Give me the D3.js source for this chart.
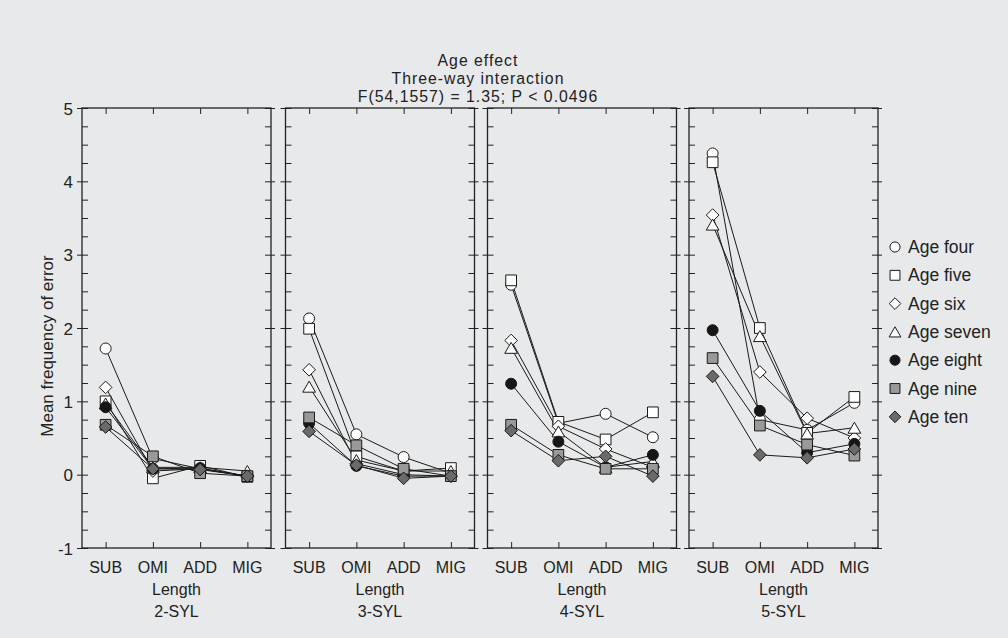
<!DOCTYPE html>
<html><head><meta charset="utf-8">
<script src="https://cdn.jsdelivr.net/npm/d3@7"></script>
<style>
html,body{margin:0;padding:0;background:#e8e9ea;}
svg{display:block;font-family:"Liberation Sans",Arial,sans-serif;}
</style></head>
<body>
<svg id="chart" width="1008" height="638"></svg>
<script>
const categories = ["SUB","OMI","ADD","MIG"];
const panels = ["2-SYL","3-SYL","4-SYL","5-SYL"];
const seriesNames = ["Age four","Age five","Age six","Age seven","Age eight","Age nine","Age ten"];
const yTicks = [-1,0,1,2,3,4,5];
const titleLines = ["Age effect","Three-way interaction","F(54,1557) = 1.35; P < 0.0496"];

// values[series][panel][category]
const ageFour  = [[1.72,0.22,0.08,-0.02],[2.13,0.55,0.24,0.02],[2.59,0.70,0.83,0.51],[4.38,0.75,0.61,0.98]];
const ageFive  = [[1.00,-0.05,0.12,-0.03],[1.99,0.25,0.05,0.09],[2.65,0.72,0.48,0.85],[4.26,2.00,0.57,1.06]];
const ageSix   = [[1.19,0.05,0.08,-0.02],[1.43,0.15,0.00,-0.02],[1.83,0.66,0.35,0.10],[3.54,1.40,0.77,0.50]];
const ageSeven = [[0.97,0.10,0.10,0.05],[1.20,0.20,0.05,0.05],[1.73,0.59,0.10,0.18],[3.41,1.89,0.56,0.64]];
const ageEight = [[0.92,0.08,0.09,-0.02],[0.70,0.12,-0.02,-0.02],[1.24,0.45,0.10,0.27],[1.97,0.87,0.30,0.42]];
const ageNine  = [[0.68,0.25,0.02,-0.02],[0.78,0.40,0.08,-0.02],[0.68,0.27,0.08,0.08],[1.59,0.67,0.41,0.26]];
const ageTen   = [[0.65,0.08,0.07,-0.02],[0.59,0.13,-0.05,-0.02],[0.60,0.19,0.25,-0.02],[1.34,0.27,0.23,0.35]];
const seriesValues = [ageFour,ageFive,ageSix,ageSeven,ageEight,ageNine,ageTen];

// square diamond (rotated square) and upright triangle
const symbolRhombus = { draw(ctx, size){ const r = Math.sqrt(size/2); ctx.moveTo(0,-r); ctx.lineTo(r,0); ctx.lineTo(0,r); ctx.lineTo(-r,0); ctx.closePath(); } };
const symbolTri = { draw(ctx, size){ const s = Math.sqrt(size*4/Math.sqrt(3)); const h = s*Math.sqrt(3)/2; ctx.moveTo(0,-h/2); ctx.lineTo(s/2,h/2); ctx.lineTo(-s/2,h/2); ctx.closePath(); } };

const seriesShape = [d3.symbolCircle,d3.symbolSquare,symbolRhombus,symbolTri,d3.symbolCircle,d3.symbolSquare,symbolRhombus];
const seriesFill = ["#ffffff","#ffffff","#ffffff","#ffffff","#161616","#999999","#6a6a6a"];
const seriesSize = [95,115,80,70,95,115,80];

const svg = d3.select("#chart");
const ink = "#222";

const panelW = 189, plotTop = 108, plotBottom = 548;
const panelLeft = [82, 285.5, 487.5, 689];
const y = d3.scaleLinear().domain([-1,5]).range([plotBottom, plotTop]);

// title
svg.selectAll("text.title").data(titleLines).join("text")
  .attr("x", 478).attr("y", (d,i)=>66+i*17.8)
  .attr("text-anchor","middle").attr("font-size",15.8).attr("letter-spacing","1px")
  .attr("fill",ink).text(d=>d);

// y label
svg.append("text").attr("transform","translate(53,346) rotate(-90)")
  .attr("text-anchor","middle").attr("font-size",17).attr("fill",ink).text("Mean frequency of error");

const minorTicks = d3.range(-1,5.001,0.25);

panels.forEach((pname,p)=>{
  const x = d3.scaleLinear().domain([0.5,4.5]).range([panelLeft[p], panelLeft[p]+panelW]);
  const g = svg.append("g");
  const L = panelLeft[p], R = L+panelW;

  const yl = d3.axisLeft(y).tickValues(minorTicks).tickSize(-6).tickFormat("");
  const gl = g.append("g").attr("transform",`translate(${L},0)`).call(yl);
  gl.select(".domain").remove();
  gl.selectAll("line").attr("stroke",ink);
  const ylMaj = d3.axisLeft(y).tickValues(yTicks).tickSizeInner(5).tickSizeOuter(0).tickPadding(4)
    .tickFormat(p===0 ? (d=> d<0 ? "-"+Math.abs(d) : String(d)) : "");
  const glm = g.append("g").attr("transform",`translate(${L},0)`).call(ylMaj);
  glm.select(".domain").remove();
  glm.selectAll("line").attr("stroke",ink);
  glm.attr("font-size",17).attr("font-family",null);
  glm.selectAll("text").attr("fill",ink).attr("dy","0.36em");

  const yr = d3.axisRight(y).tickValues(minorTicks).tickSize(-6).tickFormat("");
  const gr = g.append("g").attr("transform",`translate(${R},0)`).call(yr);
  gr.select(".domain").remove();
  gr.selectAll("line").attr("stroke",ink);
  const yrMaj = d3.axisRight(y).tickValues(yTicks).tickSize(4).tickFormat("");
  const grm = g.append("g").attr("transform",`translate(${R},0)`).call(yrMaj);
  grm.select(".domain").remove();
  grm.selectAll("line").attr("stroke",ink);

  const xt = d3.axisTop(x).tickValues([1,2,3,4]).tickSize(-6).tickFormat("");
  const gt = g.append("g").attr("transform",`translate(0,${plotTop})`).call(xt);
  gt.select(".domain").remove(); gt.selectAll("line").attr("stroke",ink);
  const xb = d3.axisBottom(x).tickValues([1,2,3,4]).tickSize(-6).tickFormat("");
  const gb = g.append("g").attr("transform",`translate(0,${plotBottom})`).call(xb);
  gb.select(".domain").remove(); gb.selectAll("line").attr("stroke",ink);

  g.selectAll("text.cat").data(categories).join("text")
    .attr("x",(d,i)=>x(i+1)).attr("y",plotBottom+25)
    .attr("text-anchor","middle").attr("font-size",16).attr("fill",ink).text(d=>d);
  g.append("text").attr("x",(L+R)/2).attr("y",plotBottom+47).attr("text-anchor","middle")
    .attr("font-size",16).attr("fill",ink).text("Length");
  g.append("text").attr("x",(L+R)/2).attr("y",plotBottom+69).attr("text-anchor","middle")
    .attr("font-size",16).attr("fill",ink).text(pname);

  g.append("rect").attr("x",L).attr("y",plotTop).attr("width",panelW).attr("height",plotBottom-plotTop)
    .attr("fill","none").attr("stroke",ink).attr("stroke-width",1.3);

  const line = d3.line().x((d,i)=>x(i+1)).y(d=>y(d));
  seriesValues.forEach((sv,s)=>{
    g.append("path").attr("d",line(sv[p])).attr("fill","none").attr("stroke","#1a1a1a").attr("stroke-width",1);
  });
  seriesValues.forEach((sv,s)=>{
    g.selectAll(null).data(sv[p]).join("path")
      .attr("transform",(d,i)=>`translate(${x(i+1)},${y(d)})`)
      .attr("d",d3.symbol().type(seriesShape[s]).size(seriesSize[s]))
      .attr("fill",seriesFill[s]).attr("stroke","#1a1a1a").attr("stroke-width",1);
  });
});

const leg = svg.append("g");
seriesNames.forEach((n,s)=>{
  const yy = 247 + s*28.3;
  leg.append("path").attr("transform",`translate(895,${yy})`)
    .attr("d",d3.symbol().type(seriesShape[s]).size(seriesSize[s]*0.85))
    .attr("fill",seriesFill[s]).attr("stroke","#1a1a1a").attr("stroke-width",1);
  leg.append("text").attr("x",908).attr("y",yy+6).attr("font-size",17.5).attr("fill",ink).text(n);
});
</script>
</body></html>
